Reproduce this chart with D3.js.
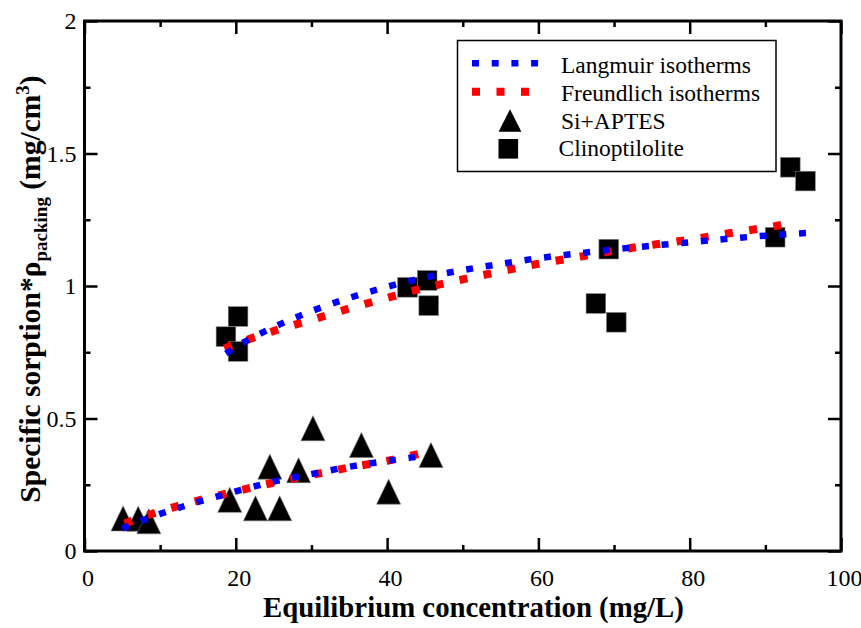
<!DOCTYPE html>
<html><head><meta charset="utf-8">
<script src="https://cdn.jsdelivr.net/npm/d3@7"></script>
<style>
html,body{margin:0;padding:0;background:#fff;}
svg, svg text{font-family:"Liberation Serif","Times New Roman",serif !important;}
</style>
</head><body>
<svg id="chart" width="861" height="628"></svg>
<script>
// ---- data ----
const xTicks = [0, 20, 40, 60, 80, 100];
const xMinorTicks = [10, 30, 50, 70, 90];
const yTicks = [0, 0.5, 1, 1.5, 2];
const yMinorTicks = [0.25, 0.75, 1.25, 1.75];

const siC = [5.1, 7.1, 8.5, 19.2, 24.5, 22.6, 25.8, 28.3, 30.2, 36.6, 40.2, 45.8];
const siQ = [0.123, 0.122, 0.112, 0.193, 0.318, 0.161, 0.161, 0.305, 0.463, 0.400, 0.224, 0.362];

const clC = [18.7, 20.3, 20.3, 42.7, 45.3, 45.5, 67.6, 70.3, 69.3, 91.3, 93.3, 95.3];
const clQ = [0.809, 0.885, 0.753, 0.995, 1.021, 0.926, 0.934, 0.863, 1.139, 1.184, 1.448, 1.396];

const siLangC = [5, 10, 15, 20, 25, 30, 35, 40, 44];
const siLangQ = [0.085, 0.14, 0.185, 0.225, 0.262, 0.29, 0.318, 0.34, 0.356];
const siFreuC = [5.3, 10, 15, 20, 25, 30, 35, 40, 44.5];
const siFreuQ = [0.104, 0.15, 0.19, 0.225, 0.258, 0.287, 0.315, 0.34, 0.368];

const clLangC = [18.7, 20, 23.5, 30, 35, 40, 45, 50, 55, 60, 65, 70, 75, 80, 85, 90, 95.5];
const clLangQ = [0.745, 0.77, 0.824, 0.905, 0.955, 0.997, 1.032, 1.06, 1.083, 1.105, 1.122, 1.138, 1.152, 1.165, 1.178, 1.19, 1.2];
const clFreuC = [18.5, 22, 25, 30, 35, 40, 45, 50, 55, 60, 65, 70, 75, 80, 85, 90, 93.5];
const clFreuQ = [0.764, 0.802, 0.83, 0.872, 0.915, 0.955, 0.993, 1.025, 1.055, 1.084, 1.108, 1.133, 1.155, 1.175, 1.198, 1.22, 1.237];

const legendLabels = ["Langmuir isotherms", "Freundlich isotherms", "Si+APTES", "Clinoptilolite"];

// ---- layout ----
const svg = d3.select("#chart");
const L = 84.5, R = 841, T = 21, B = 551;
const x = d3.scaleLinear().domain([0, 100]).range([L, R]);
const y = d3.scaleLinear().domain([0, 2]).range([B, T]);

const zip = (a, b) => a.map((v, i) => [v, b[i]]);

// axes (ticks inward on all four sides)
function styleAxis(g) {
  g.attr("font-family", null).attr("font-size", null);
  g.select(".domain").remove();
  g.selectAll(".tick line").attr("stroke", "#000").attr("stroke-width", 2.5);
  g.selectAll(".tick text").attr("fill", "#000").style("font-size", "24px");
}
svg.append("g").attr("transform", `translate(0,${B})`)
  .call(d3.axisBottom(x).tickValues(xTicks).tickSize(-13).tickPadding(18).tickFormat(d => String(d)))
  .call(styleAxis).selectAll(".tick text").attr("dx", 3);
svg.append("g").attr("transform", `translate(0,${B})`)
  .call(d3.axisBottom(x).tickValues(xMinorTicks).tickSize(-6).tickFormat(""))
  .call(styleAxis);
svg.append("g").attr("transform", `translate(0,${T})`)
  .call(d3.axisTop(x).tickValues(xTicks).tickSize(-13).tickFormat(""))
  .call(styleAxis);
svg.append("g").attr("transform", `translate(0,${T})`)
  .call(d3.axisTop(x).tickValues(xMinorTicks).tickSize(-6).tickFormat(""))
  .call(styleAxis);
svg.append("g").attr("transform", `translate(${L},0)`)
  .call(d3.axisLeft(y).tickValues(yTicks).tickSize(-13).tickPadding(8).tickFormat(d => String(d)))
  .call(styleAxis);
svg.append("g").attr("transform", `translate(${L},0)`)
  .call(d3.axisLeft(y).tickValues(yMinorTicks).tickSize(-6).tickFormat(""))
  .call(styleAxis);
svg.append("g").attr("transform", `translate(${R},0)`)
  .call(d3.axisRight(y).tickValues(yTicks).tickSize(-13).tickFormat(""))
  .call(styleAxis);
svg.append("g").attr("transform", `translate(${R},0)`)
  .call(d3.axisRight(y).tickValues(yMinorTicks).tickSize(-6).tickFormat(""))
  .call(styleAxis);

// frame
svg.append("rect").attr("x", L).attr("y", T).attr("width", R - L).attr("height", B - T)
  .attr("fill", "none").attr("stroke", "#000").attr("stroke-width", 3);

// markers
const triPath = "M0,-12.5L12,12.5L-12,12.5Z";
svg.append("g").selectAll("path").data(zip(siC, siQ)).join("path")
  .attr("d", triPath)
  .attr("transform", d => `translate(${x(d[0])},${y(d[1])})`)
  .attr("fill", "#000").attr("stroke", "#777").attr("stroke-width", 0.6);
svg.append("g").selectAll("rect").data(zip(clC, clQ)).join("rect")
  .attr("x", d => x(d[0]) - 9.8).attr("y", d => y(d[1]) - 9.8)
  .attr("width", 19.6).attr("height", 19.6)
  .attr("fill", "#000").attr("stroke", "#777").attr("stroke-width", 0.6);

// fitted curves
const line = d3.line().x(d => x(d[0])).y(d => y(d[1])).curve(d3.curveMonotoneX);
const redStyle = s => s.attr("fill", "none").attr("stroke", "#ff0000").attr("stroke-width", 8).attr("stroke-dasharray", "8 16.5");
const blueStyle = s => s.attr("fill", "none").attr("stroke", "#0000ff").attr("stroke-width", 6.5).attr("stroke-dasharray", "7 12.7");
svg.append("path").datum(zip(siFreuC, siFreuQ)).attr("d", line).call(redStyle);
svg.append("path").datum(zip(siLangC, siLangQ)).attr("d", line).call(blueStyle);
svg.append("path").datum(zip(clFreuC, clFreuQ)).attr("d", line).call(redStyle);
svg.append("path").datum(zip(clLangC, clLangQ)).attr("d", line).call(blueStyle);

// legend
const lg = svg.append("g");
lg.append("rect").attr("x", 457.5).attr("y", 40.5).attr("width", 318.5).attr("height", 131)
  .attr("fill", "#fff").attr("stroke", "#000").attr("stroke-width", 1.5);
lg.append("line").attr("x1", 472).attr("x2", 546).attr("y1", 63.3).attr("y2", 63.3).call(blueStyle);
lg.append("line").attr("x1", 472).attr("x2", 536).attr("y1", 91.7).attr("y2", 91.7).call(redStyle);
lg.append("path").attr("d", triPath).attr("transform", "translate(510,120.5) scale(0.95,0.9)").attr("fill", "#000");
lg.append("rect").attr("x", 498.5).attr("y", 139).attr("width", 19.6).attr("height", 19.6).attr("fill", "#000");
const lgX = [561, 561, 561, 558.5];
const lgY = [73.3, 101, 129.3, 156];
lg.selectAll("text").data(legendLabels).join("text")
  .attr("x", (d, i) => lgX[i]).attr("y", (d, i) => lgY[i])
  .style("font-size", "23.5px").attr("fill", "#000").text(d => d);

// axis titles
svg.append("text").attr("x", 473.5).attr("y", 617)
  .attr("text-anchor", "middle").style("font-size", "28.8px").style("font-weight", "bold")
  .text("Equilibrium concentration (mg/L)");

const yt = svg.append("text").attr("transform", "translate(40,289) rotate(-90)")
  .attr("text-anchor", "middle").style("font-size", "29.5px").style("font-weight", "bold");
yt.append("tspan").text("Specific sorption*ρ");
yt.append("tspan").attr("dy", 7).style("font-size", "19px").text("packing");
yt.append("tspan").attr("dy", -7).text(" (mg/cm");
yt.append("tspan").attr("dy", -11).style("font-size", "19px").text("3");
yt.append("tspan").attr("dy", 11).text(")");
</script>
</body></html>
